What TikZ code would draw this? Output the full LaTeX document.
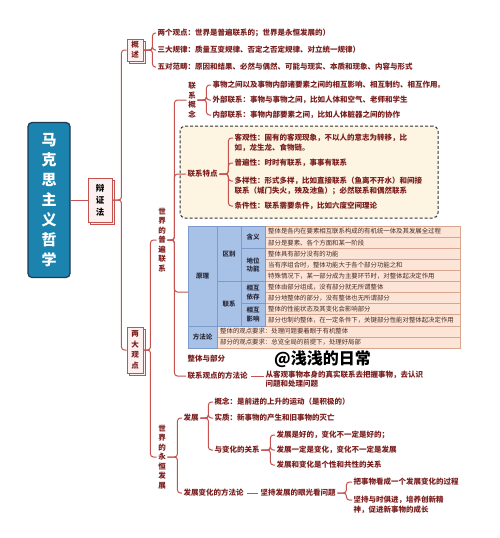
\documentclass[tikz,border=0pt]{standalone}
\usepackage{fontspec}
\setmainfont{Noto Sans CJK SC}
\usetikzlibrary{calc,shadows}
\definecolor{lnred}{HTML}{C4524E}
\definecolor{txred}{HTML}{7A1E1E}
\definecolor{boxfill}{HTML}{FDF0F0}
\definecolor{titlefill}{HTML}{1B83AE}
\definecolor{titleline}{HTML}{1E3A52}
\definecolor{dashfill}{HTML}{FDF5E2}
\definecolor{bluecell}{HTML}{A7C2E6}
\definecolor{blueline}{HTML}{7C9BCB}
\definecolor{peach}{HTML}{FCE4D6}
\definecolor{peachline}{HTML}{D8A58E}
\definecolor{celltxt}{HTML}{4A2A22}
\definecolor{bluetxt}{HTML}{2A2A3A}
\tikzset{
  conn/.style={draw=lnred, line width=1pt, rounded corners=3pt},
  lbl/.style={text=txred, font=\fontsize{7.5}{9.5}\selectfont\bfseries, inner sep=1.5pt, anchor=west},
  vlbl/.style={text=txred, font=\fontsize{7.5}{9.5}\selectfont\bfseries, inner sep=1.5pt, align=center},
  stackbox/.style={draw=lnred, fill=boxfill, line width=0.9pt, align=center, inner sep=0pt,
    text=txred, font=\fontsize{7.5}{10}\selectfont\bfseries,
    copy shadow={shadow xshift=2pt, shadow yshift=-2pt, fill=boxfill, draw=lnred, line width=0.8pt}},
  titlebox/.style={draw=titleline, fill=titlefill, line width=1.2pt, rounded corners=4pt,
    text=white, font=\fontsize{15}{20}\selectfont\bfseries, align=center,
    minimum width=42pt, minimum height=155pt, inner sep=0pt},
  dbox/.style={draw=black!80, dash pattern=on 3pt off 2pt, fill=dashfill, rounded corners=5pt, line width=1pt},
  pcell/.style={draw=peachline, fill=peach, line width=0.6pt},
  ctext/.style={text=celltxt, font=\fontsize{6.4}{8}\selectfont, inner sep=0pt, anchor=west},
  bcell/.style={draw=blueline, fill=bluecell, line width=0.6pt, inner sep=0pt, align=center,
    text=bluetxt, font=\fontsize{6.5}{8.5}\selectfont\bfseries},
}
\begin{document}
\begin{tikzpicture}[x=1pt,y=-1pt]
\fill[white] (0,0) rectangle (500,538);
\useasboundingbox (0,0) rectangle (500,538);

% root and first level
\node[titlebox] (root) at (49,200) {马\\克\\思\\主\\义\\哲\\学};
\node[stackbox, text=black, minimum width=24pt, minimum height=44pt,
      font=\fontsize{8.5}{12}\selectfont\bfseries] (bzf) at (100,200) {辩\\证\\法};
\node[stackbox, minimum width=16pt, minimum height=22pt] (gs) at (135,50) {概\\述};
\node[stackbox, minimum width=16pt, minimum height=46pt, font=\fontsize{7.5}{10.5}\selectfont\bfseries] (ldgd) at (135,350) {两\\大\\观\\点};

\draw[conn] (root.east) -- (bzf.west);
\draw[conn] (bzf.east) -- ++(9,0) |- (gs.west);
\draw[conn] (bzf.east) -- ++(9,0) |- (ldgd.west);

% overview items
\node[lbl] (g1) at (156,33) {两个观点：世界是普遍联系的；世界是永恒发展的）};
\node[lbl] (g2) at (156,50) {三大规律：质量互变规律、否定之否定规律、对立统一规律）};
\node[lbl] (g3) at (156,67) {五对范畴：原因和结果、必然与偶然、可能与现实、本质和现象、内容与形式};
\foreach \n in {g1,g2,g3} \draw[conn] (gs.east) -- ++(9,0) |- (\n.west);

% two views
\node[vlbl] (pj) at (162,240) {世\\界\\的\\普\\遍\\联\\系};
\node[vlbl] (yh) at (162,457) {世\\界\\的\\永\\恒\\发\\展};
\draw[conn] (ldgd.east) -- ++(7,0) |- (pj.west);
\draw[conn] (ldgd.east) -- ++(7,0) |- (yh.west);

% connection concept
\node[vlbl] (lxgn) at (192,100) {联\\系\\概\\念};
\node[lbl] (c1) at (211,85) {事物之间以及事物内部诸要素之间的相互影响、相互制约、相互作用。};
\node[lbl] (c2) at (211,100) {外部联系：事物与事物之间，比如人体和空气、老师和学生};
\node[lbl] (c3) at (211,115) {内部联系：事物内部要素之间，比如人体脏器之间的协作};
\foreach \n in {c1,c2,c3} \draw[conn] (lxgn.east) -- ++(9,0) |- (\n.west);

% characteristics (dashed box)
\node[dbox, minimum width=258pt, minimum height=92pt] (dashb) at (309,172) {};
\node[lbl] (lxtd) at (186,174) {联系特点};
\node[lbl] (t1) at (233,138) {客观性：固有的客观现象，不以人的意志为转移，比};
\node[lbl] (t1b) at (233,148) {如，龙生龙、食物链。};
\node[lbl] (t2) at (233,163) {普遍性：时时有联系，事事有联系};
\node[lbl] (t3) at (233,181) {多样性：形式多样，比如直接联系（鱼离不开水）和间接};
\node[lbl] (t3b) at (233,190.5) {联系（城门失火，殃及池鱼）；必然联系和偶然联系};
\node[lbl] (t4) at (233,206) {条件性：联系需要条件，比如六度空间理论};
\foreach \n in {t1,t2,t3,t4} \draw[conn] (lxtd.east) -- ++(9,0) |- (\n.west);

% table
\node[minimum width=272pt, minimum height=122pt, inner sep=0pt] (tbl) at (324,287) {};
\foreach \i/\t in {
  1/{整体是各内在要素相互联系构成的有机统一体及其发展全过程},
  2/{部分是要素、各个方面和某一阶段},
  3/{整体具有部分没有的功能},
  4/{当有序组合时，整体功能大于各个部分功能之和},
  5/{特殊情况下，某一部分成为主要环节时，对整体起决定作用},
  6/{整体由部分组成，没有部分就无所谓整体},
  7/{部分地整体的部分，没有整体也无所谓部分},
  8/{整体的性能状态及其变化会影响部分},
  9/{部分也制约整体，在一定条件下，关键部分性能对整体起决定作用}} {
  \pgfmathsetmacro\ya{226+(\i-1)*11.09}
  \pgfmathsetmacro\yb{226+\i*11.09}
  \draw[pcell] (265,\ya) rectangle (460,\yb);
  \node[ctext] (r\i) at (268,{(\ya+\yb)/2}) {\t};
}
\draw[pcell] (217,325.82) rectangle (460,336.91);
\draw[pcell] (217,336.91) rectangle (460,348);
\node[ctext] (r10) at (220,331.36) {整体的观点要求：处理问题要着眼于有机整体};
\node[ctext] (r11) at (220,342.45) {部分的观点要求：总览全局的前提下，处理好局部};
\node[bcell, minimum width=29pt, minimum height=99.82pt] (yl) at (202.5,275.91) {原理};
\node[bcell, minimum width=29pt, minimum height=22.18pt] (ffl) at (202.5,336.91) {方法论};
\node[bcell, minimum width=24pt, minimum height=55.45pt] (qb) at (229,253.73) {区别};
\node[bcell, minimum width=24pt, minimum height=44.37pt] (lxc) at (229,303.64) {联系};
\node[bcell, minimum width=24pt, minimum height=22.18pt] (hy) at (253,237.09) {含义};
\node[bcell, minimum width=24pt, minimum height=33.27pt] (dw) at (253,264.82) {地位\\功能};
\node[bcell, minimum width=24pt, minimum height=22.18pt] (yc) at (253,292.55) {相互\\依存};
\node[bcell, minimum width=24pt, minimum height=22.18pt] (yx) at (253,314.73) {相互\\影响};
\node[lbl] (ztbf) at (186,359) {整体与部分};
\node[anchor=west, inner sep=0pt, text=black, font=\fontsize{16}{18}\selectfont\bfseries] (wm) at (274,359) {@浅浅的日常};

% methodology of connection
\node[lbl] (lxff) at (186,376) {联系观点的方法论};
\node[lbl, align=left] (lxffd) at (264,379) {从客观事物本身的真实联系去把握事物，去认识\\问题和处理问题};
\draw[conn, shorten <=2pt] (lxff.east) -- (lxff.east -| lxffd.west);

\draw[conn] (pj.east) -- ++(7,0) |- (lxgn.west);
\draw[conn] (pj.east) -- ++(7,0) |- (lxtd.west);
\draw[conn] (pj.east) -- ++(7,0) |- ($(tbl.west)+(0,5)$);
\draw[conn] (pj.east) -- ++(7,0) |- (lxff.west);

% development
\node[lbl] (fz) at (182,418) {发展};
\node[lbl] (fzff) at (182,493) {发展变化的方法论};
\draw[conn] (yh.east) -- ++(10,0) |- (fz.west);
\draw[conn] (yh.east) -- ++(10,0) |- (fzff.west);

\node[lbl] (f1) at (213,402) {概念：是前进的上升的运动（是积极的）};
\node[lbl] (f2) at (213,418) {实质：新事物的产生和旧事物的灭亡};
\node[lbl] (ygx) at (213,450) {与变化的关系};
\foreach \n in {f1,f2,ygx} \draw[conn] (fz.east) -- ++(8,0) |- (\n.west);

\node[lbl] (b1) at (275,435) {发展是好的，变化不一定是好的；};
\node[lbl] (b2) at (275,450) {发展一定是变化，变化不一定是发展};
\node[lbl] (b3) at (275,465) {发展和变化是个性和共性的关系};
\foreach \n in {b1,b2,b3} \draw[conn] (ygx.east) -- ++(9,0) |- (\n.west);

\node[lbl] (jc) at (259,493) {坚持发展的眼光看问题};
\draw[conn, shorten <=2pt, shorten >=1pt] (fzff.east) -- (jc.west);
\node[lbl] (p1) at (352,482) {把事物看成一个发展变化的过程};
\node[lbl] (p2) at (352,500) {坚持与时俱进，培养创新精};
\node[lbl] (p2b) at (352,509.5) {神，促进新事物的成长};
\foreach \n in {p1,p2} \draw[conn] (jc.east) -- ++(9,0) |- (\n.west);
\end{tikzpicture}
\end{document}
